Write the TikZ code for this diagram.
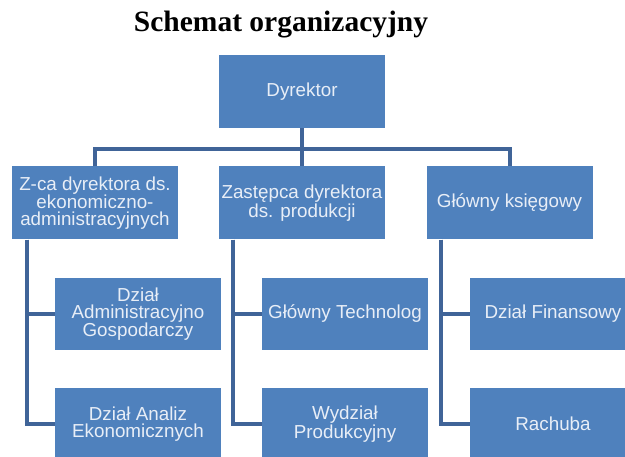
\documentclass[tikz,border=0pt]{standalone}
\usepackage{fontspec}
\setmainfont{Liberation Serif}
\newfontfamily\boxfont{Liberation Sans}
\usepackage{xcolor}
\usepackage{tikz}
\usetikzlibrary{positioning, calc}
\definecolor{boxblue}{RGB}{79,129,189}
\definecolor{lineblue}{RGB}{64,100,152}
\definecolor{labelwhite}{RGB}{232,238,247}

\begin{document}
\begin{tikzpicture}[x=1pt, y=-1pt,
    unit/.style={fill=boxblue, text=labelwhite, align=center, inner sep=0pt,
        minimum width=166pt, minimum height=73pt,
        font=\boxfont\fontsize{18.8}{17}\selectfont},
    link/.style={draw=lineblue, line width=4pt}]
            \clip (0,0) rectangle (625,457);
            \node[font=\bfseries\fontsize{29.5}{31}\selectfont] (title) at (281,25) {Schemat organizacyjny};
            % top level
            \node[unit] (dyr) at (302,91.5) {Dyrektor};
            % deputies
            \node[unit] (zca) at (95,203) {Z-ca dyrektora ds.\\ekonomiczno-\\administracyjnych};
            \node[unit] (zast) at (302,203) {Zastępca dyrektora\\ds. produkcji};
            \node[unit] (glk) at (509.5,203) {Główny księgowy};
            % departments
            \node[unit, minimum height=72pt] (dad) at (138,314) {Dział\\Administracyjno\\Gospodarczy};
            \node[unit, minimum height=72pt] (dae) at (138,424) {Dział Analiz\\Ekonomicznych};
            \node[unit, minimum height=72pt] (gt) at (345,314) {Główny Technolog};
            \node[unit, minimum height=72pt] (wp) at (345,424) {Wydział\\Produkcyjny};
            \node[unit, minimum height=72pt] (df) at (553,314) {Dział Finansowy};
            \node[unit, minimum height=72pt] (rach) at (553,424) {Rachuba};
            % connectors
            \draw[link] (dyr.south) -- (zast.north);
            \draw[link] (zca.north) -- ++(0,-17) -| (glk.north);
            \draw[link] ([xshift=15pt]zca.south west) |- (dad.west);
            \draw[link] ([xshift=15pt]zca.south west) |- (dae.west);
            \draw[link] ([xshift=14pt]zast.south west) |- (gt.west);
            \draw[link] ([xshift=14pt]zast.south west) |- (wp.west);
            \draw[link] ([xshift=15pt]glk.south west) |- (df.west);
            \draw[link] ([xshift=15pt]glk.south west) |- (rach.west);
        \end{tikzpicture}
\end{document}
